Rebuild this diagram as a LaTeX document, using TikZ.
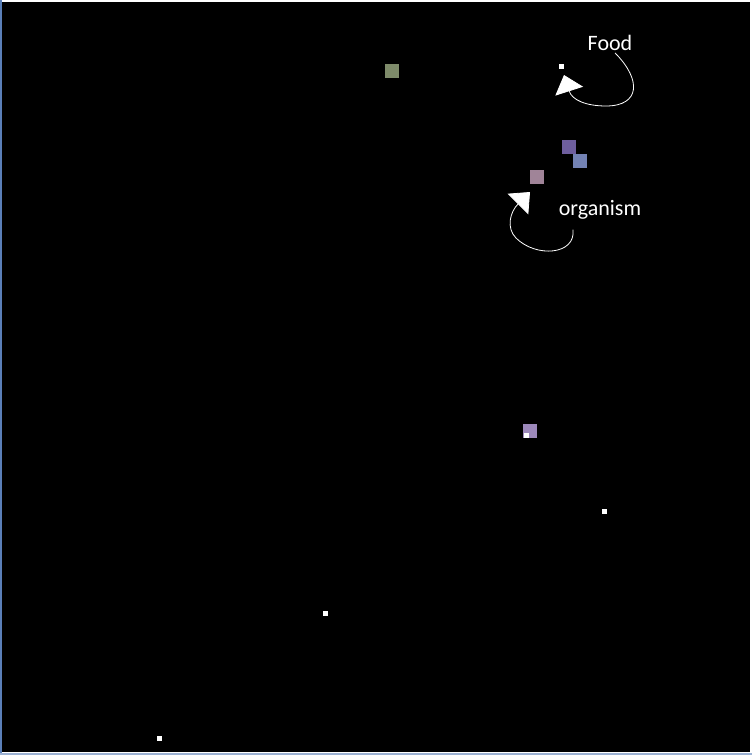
\documentclass[tikz,border=0pt]{standalone}
\usepackage{fontspec}
\setmainfont{Carlito}
\usepackage{tikz}
\usetikzlibrary{arrows.meta,positioning}

\definecolor{frameblue}{HTML}{5A7FB8}
\definecolor{cellgreen}{HTML}{7E8B6A}
\definecolor{cellpurple}{HTML}{6E5E9E}
\definecolor{cellblue}{HTML}{7382B4}
\definecolor{cellmauve}{HTML}{A08498}
\definecolor{celllilac}{HTML}{9C88BA}

\begin{document}
\begin{tikzpicture}[
            x=1pt, y=-1pt,
            cell/.style={
                rectangle, inner sep=0pt,
                minimum size=14pt
            },
            speck/.style={
                rectangle, fill=white, inner sep=0pt,
                minimum size=5pt
            },
            tag/.style={
                text=white, inner sep=0pt,
                font=\fontsize{22pt}{24pt}\selectfont
            },
            pointer/.style={
                draw=white, line width=0.8pt,
                -{Triangle[length=17pt,width=29pt]}
            }
        ]
        \useasboundingbox (0,0) rectangle (752,755);
        \fill[white] (0,0) rectangle (752,755);
        \fill[black] (2,2) rectangle (750,752);
        \draw[frameblue, line width=1.5pt] (0.75,0) -- (0.75,755);
        \draw[frameblue!60!white, line width=2pt] (0,754) -- (752,754);

        % cells
        \node[cell, fill=cellgreen] (green) at (392,71) {};
        \node[cell, fill=cellpurple] (purple) at (569,147) {};
        \node[cell, fill=cellblue] (blue) at (580,161) {};
        \node[cell, fill=cellmauve] (mauve) at (537,177) {};
        \node[cell, fill=celllilac] (lilac) at (530,431) {};

        % specks
        \node[speck] (s1) at (561,66) {};
        \node[speck] (s2) at (526,435) {};
        \node[speck] (s3) at (604,511) {};
        \node[speck] (s4) at (325,613) {};
        \node[speck] (s5) at (159,738) {};

        % labels
        \node[tag] (food) at (610,43) {Food};
        \node[tag] (organism) at (600,210) {organism};

        \coordinate (foodtip) at (564,75);
        \coordinate (orgtip) at (530,192);

        \draw[pointer] ([xshift=5pt, yshift=-2pt]food.south) .. controls (642,80) and (640,106) .. (606,106)
            .. controls (586,106) and (572,100) .. (foodtip);
        \draw[pointer] ([xshift=-27pt, yshift=-10pt]organism.south) .. controls (576,255) and (536,258) .. (516,238)
            .. controls (506,228) and (510,212) .. (orgtip);
\end{tikzpicture}
\end{document}
